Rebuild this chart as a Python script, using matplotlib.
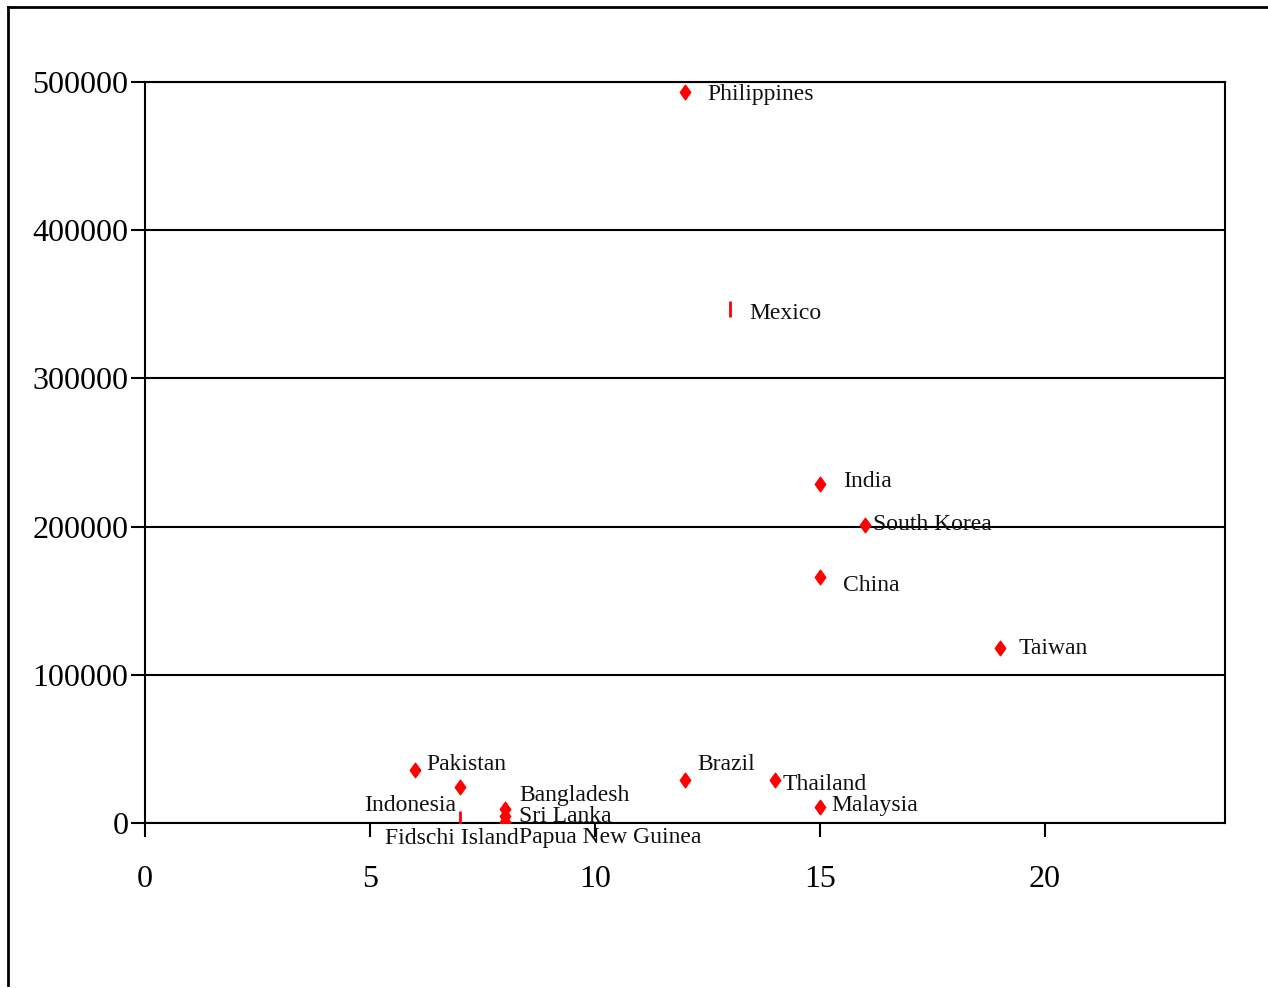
import matplotlib
matplotlib.use("Agg")
import matplotlib.pyplot as plt
from matplotlib.lines import Line2D
from matplotlib.path import Path

# data
countries = ["Philippines", "Mexico", "India", "South Korea", "China", "Taiwan",
             "Pakistan", "Indonesia", "Fidschi Island", "Bangladesh", "Sri Lanka",
             "Papua New Guinea", "Brazil", "Thailand", "Malaysia"]
x_vals = [12, 13, 15, 16, 15, 19, 6, 7, 7, 8, 8, 8, 12, 14, 15]
y_vals = [493000, 347000, 229000, 201000, 166000, 118000, 36000, 24000, 3000,
          9500, 5000, 1000, 29000, 29000, 11000]
markers = ["d", "|", "d", "d", "d", "d", "d", "d", "|", "d", "d", "d", "d", "d", "d"]

x_ticks = [0, 5, 10, 15, 20]
y_ticks = [0, 100000, 200000, 300000, 400000, 500000]

# label placement (pixels from marker, ha)
label_offsets = {
    "Philippines": (22, -2, "left"),
    "Mexico": (19, -5, "left"),
    "India": (23, 2, "left"),
    "South Korea": (8, 1, "left"),
    "China": (23, -9, "left"),
    "Taiwan": (19, 0, "left"),
    "Pakistan": (11, 5, "left"),
    "Indonesia": (-4, -18, "right"),
    "Fidschi Island": (-8, -20, "center"),
    "Bangladesh": (14, 13, "left"),
    "Sri Lanka": (14, -1, "left"),
    "Papua New Guinea": (14, -16, "left"),
    "Brazil": (12, 16, "left"),
    "Thailand": (8, -4, "left"),
    "Malaysia": (11, 1, "left"),
}

diamond = Path([(0, 1), (0.72, 0), (0, -1), (-0.72, 0), (0, 1)],
               [Path.MOVETO, Path.LINETO, Path.LINETO, Path.LINETO, Path.CLOSEPOLY])

plt.rcParams["font.family"] = ["Liberation Serif", "DejaVu Serif"]

fig = plt.figure(figsize=(12.68, 9.88), dpi=100)
ax = fig.add_axes([145 / 1268, 165 / 988, 1080 / 1268, 741 / 988])

for xv, yv, m in zip(x_vals, y_vals, markers):
    if m == "|":
        ax.plot(xv, yv, marker="|", color="red", markersize=11, markeredgewidth=2, zorder=3)
    else:
        ax.plot(xv, yv, marker=diamond, color="red", markersize=10.5, zorder=3)

for name, xv, yv in zip(countries, x_vals, y_vals):
    dx, dy, ha = label_offsets[name]
    ax.annotate(name, (xv, yv), xytext=(dx, dy), textcoords="offset pixels",
                ha=ha, va="center", fontsize=17, color="#111111", zorder=4)

ax.set_xlim(0, 24)
ax.set_ylim(0, 500000)
ax.set_xticks(x_ticks)
ax.set_yticks(y_ticks)
ax.set_xticklabels([str(t) for t in x_ticks])
ax.set_yticklabels([str(t) for t in y_ticks])
ax.tick_params(axis="both", labelsize=23, width=1.5, length=10, direction="out")
ax.tick_params(axis="y", pad=2)
ax.tick_params(axis="x", pad=20)
ax.grid(axis="y", color="black", linewidth=1.5)
ax.set_axisbelow(True)
for sp in ax.spines.values():
    sp.set_linewidth(1.5)

# partial outer frame (top and left)
fig.add_artist(Line2D([8 / 1268, 1.0], [1 - 7 / 988, 1 - 7 / 988], color="black", linewidth=2))
fig.add_artist(Line2D([8 / 1268, 8 / 1268], [1 - 7 / 988, 1 - 985 / 988], color="black", linewidth=2))

fig.savefig("out.png", dpi=100)
